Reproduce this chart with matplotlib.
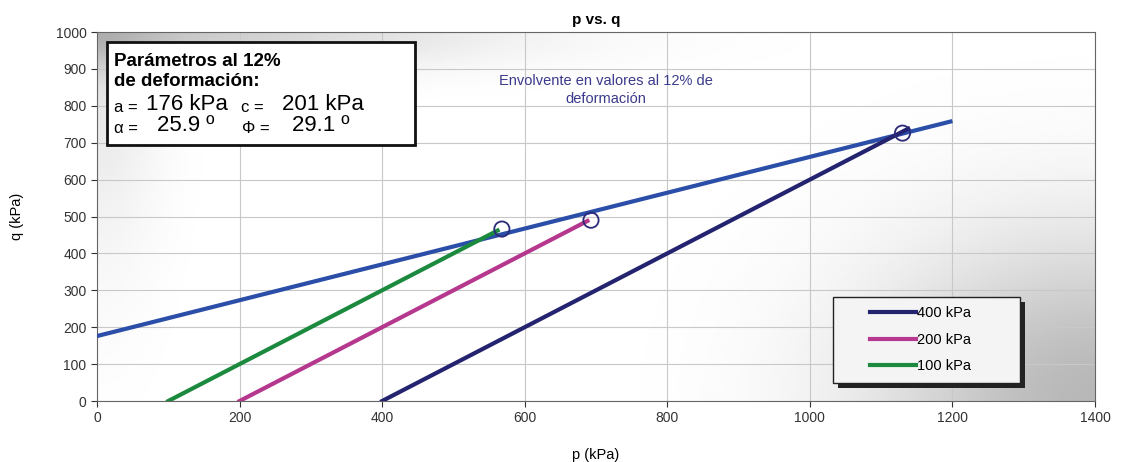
import numpy as np
import matplotlib.pyplot as plt
from matplotlib.patches import Rectangle

# stress paths (p, q) in kPa
p_400 = [400, 1138]
q_400 = [0, 738]
p_200 = [200, 688]
q_200 = [0, 488]
p_100 = [100, 562]
q_100 = [0, 462]

# failure points at 12% strain
p_fail = [568, 693, 1130]
q_fail = [466, 490, 726]

# envelope: q = a + p*tan(alpha)
a_env = 176
alpha_env = 25.9
p_env = [0, 1200]

plt.rcParams['font.family'] = ['Liberation Sans', 'DejaVu Sans']

fig = plt.figure(figsize=(11.21, 4.62), dpi=100)
ax = fig.add_axes([0.0865, 0.132, 0.8903, 0.7987])

# scanned-paper look: soft grey shading in two corners of the plot area
gx, gy = np.meshgrid(np.linspace(0, 1, 300), np.linspace(0, 1, 200))
shade = 0.22 * np.exp(-((gx / 0.35) ** 2 + ((1 - gy) / 0.10) ** 2))
shade += 0.10 * np.exp(-((gx / 0.06) ** 2 + ((1 - gy) / 0.6) ** 2))
shade += 0.28 * np.exp(-(((1 - gx) / 0.22) ** 2 + (gy / 0.45) ** 2))
ax.imshow(1 - shade, cmap='gray', vmin=0, vmax=1, origin='lower',
          extent=(0, 1, 0, 1), transform=ax.transAxes, aspect='auto',
          zorder=0, interpolation='bilinear')

q_env = [a_env + p * np.tan(np.radians(alpha_env)) for p in p_env]
ax.plot(p_env, q_env, color='#2b4ea8', lw=3, solid_capstyle='butt', zorder=3)
l400, = ax.plot(p_400, q_400, color='#232370', lw=3, label='400 kPa', zorder=4)
l200, = ax.plot(p_200, q_200, color='#b5388e', lw=3, label='200 kPa', zorder=4)
l100, = ax.plot(p_100, q_100, color='#1b8a3e', lw=3, label='100 kPa', zorder=4)
ax.scatter(p_fail, q_fail, s=120, facecolors='none', edgecolors='#2a2a78',
           linewidths=1.3, zorder=5)

ax.set_xlim(0, 1400)
ax.set_ylim(0, 1000)
ax.set_xticks(np.arange(0, 1401, 200))
ax.set_yticks(np.arange(0, 1001, 100))
ax.grid(True, color='#c8c8c8', lw=0.8)
ax.set_axisbelow(True)
ax.tick_params(labelsize=10, colors='#333333', length=4)
for s in ax.spines.values():
    s.set_color('#666666')

ax.set_title('p vs. q', fontsize=11, fontweight='bold', pad=6)
ax.set_xlabel('p (kPa)', fontsize=10.5, labelpad=16)
ax.set_ylabel('q (kPa)', fontsize=10.5, labelpad=23)

ax.text(0.51, 0.843, 'Envolvente en valores al 12% de\ndeformación',
        transform=ax.transAxes, ha='center', va='center', fontsize=10.5,
        color='#3a3a8c', linespacing=1.35, zorder=6)

# parameters box
ax.add_patch(Rectangle((0.0105, 0.695), 0.308, 0.278, transform=ax.transAxes,
                       facecolor='white', edgecolor='#111111', lw=2, zorder=6))


def px(x, y):
    return ((x - 97) / 998.0, (401 - y) / 369.0)


def put(x, y, s, **kw):
    xx, yy = px(x, y)
    ax.text(xx, yy, s, transform=ax.transAxes, va='baseline', zorder=7, **kw)


put(114, 66, 'Parámetros al 12%', fontsize=13.5, fontweight='bold')
put(114, 86, 'de deformación:', fontsize=13.5, fontweight='bold')
put(114, 112, 'a =', fontsize=12)
put(146, 110, '176 kPa', fontsize=16)
put(241, 112, 'c =', fontsize=12)
put(282, 110, '201 kPa', fontsize=16)
put(114, 133, 'α =', fontsize=12)
put(157, 131, '25.9 º', fontsize=16)
put(242, 133, 'Φ =', fontsize=12)
put(292, 131, '29.1 º', fontsize=16)

# legend box with drop shadow
bx0, by1 = px(833, 297)
bx1, by0 = px(1020, 383)
sdx, sdy = 5 / 998.0, 5 / 369.0
ax.add_patch(Rectangle((bx0 + sdx, by0 - sdy), bx1 - bx0, by1 - by0,
                       transform=ax.transAxes, facecolor='#222222',
                       edgecolor='none', zorder=7))
ax.add_patch(Rectangle((bx0, by0), bx1 - bx0, by1 - by0,
                       transform=ax.transAxes, facecolor='#f4f4f4',
                       edgecolor='#222222', lw=1, zorder=8))
leg = ax.legend(handles=[l400, l200, l100], loc='upper left',
                bbox_to_anchor=px(866, 302), fontsize=10.5, frameon=False,
                handlelength=3.1, handletextpad=0.1, labelspacing=0.85,
                borderaxespad=0, borderpad=0.3)
leg.set_zorder(9)

fig.savefig('out.png', dpi=100)
